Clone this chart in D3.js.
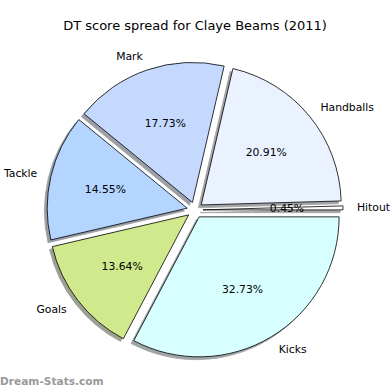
<!DOCTYPE html>
<html>
<head>
<meta charset="utf-8">
<script src="https://cdn.jsdelivr.net/npm/d3@7"></script>
<style>
  body { margin: 0; background: #fff; }
  svg { display: block; font-family: "DejaVu Sans", sans-serif; }
</style>
</head>
<body>
<svg id="chart"></svg>
<script>
// slices go counter-clockwise from 3 o'clock, like matplotlib
const categories = ['Hitout', 'Handballs', 'Mark', 'Tackle', 'Goals', 'Kicks']
const counts = [1, 46, 39, 32, 30, 72]
const colours = ['#ffffff', '#eaf1ff', '#c5d9ff', '#b4d5ff', '#cfe98c', '#d8ffff']
const title = 'DT score spread for Claye Beams (2011)'

const width = 390, height = 390
const cx = 195, cy = 210
const radius = 140
const explode = 8
const shadowOff = 2.8

const svg = d3.select('#chart')
    .attr('width', width)
    .attr('height', height)

const data = categories.map((c, i) => ({name: c, value: counts[i], colour: colours[i]}))
const total = d3.sum(counts)

const pie = d3.pie()
    .sort(null)
    .value(d => d.value)
    .startAngle(Math.PI / 2)
    .endAngle(Math.PI / 2 - 2 * Math.PI)

const arcs = pie(data)
const arc = d3.arc().innerRadius(0).outerRadius(radius)

// direction of the middle of a slice (d3 angles: clockwise from north)
const dir = d => {
    const m = (d.startAngle + d.endAngle) / 2
    return [Math.sin(m), -Math.cos(m)]
}

const g = svg.append('g').attr('transform', 'translate(' + cx + ',' + cy + ')')

// shadows first, under every wedge
g.selectAll('path.shadow')
    .data(arcs)
    .enter().append('path')
    .attr('class', 'shadow')
    .attr('d', arc)
    .attr('transform', d => {
        const [dx, dy] = dir(d)
        return 'translate(' + (dx * explode - shadowOff) + ',' + (dy * explode + shadowOff) + ')'
    })
    .attr('fill', d => {
        const c = d3.rgb(d.data.colour)
        return d3.rgb(c.r * 0.3, c.g * 0.3, c.b * 0.3)
    })
    .attr('stroke', d => {
        const c = d3.rgb(d.data.colour)
        return d3.rgb(c.r * 0.3, c.g * 0.3, c.b * 0.3)
    })
    .attr('stroke-width', 0.8)
    .attr('opacity', 0.5)

g.selectAll('path.wedge')
    .data(arcs)
    .enter().append('path')
    .attr('class', 'wedge')
    .attr('d', arc)
    .attr('transform', d => {
        const [dx, dy] = dir(d)
        return 'translate(' + dx * explode + ',' + dy * explode + ')'
    })
    .attr('fill', d => d.data.colour)
    .attr('stroke', '#000')
    .attr('stroke-width', 0.8)

// category labels at 1.1 r
g.selectAll('text.label')
    .data(arcs)
    .enter().append('text')
    .attr('class', 'label')
    .attr('x', d => dir(d)[0] * (explode + radius * 1.1))
    .attr('y', d => dir(d)[1] * (explode + radius * 1.1))
    .attr('dy', '0.35em')
    .attr('text-anchor', d => dir(d)[0] > 0 ? 'start' : 'end')
    .attr('font-size', '10.8px')
    .attr('fill', '#000')
    .text(d => d.data.name)

// percentages at 0.6 r
g.selectAll('text.pct')
    .data(arcs)
    .enter().append('text')
    .attr('class', 'pct')
    .attr('x', d => dir(d)[0] * (explode + radius * 0.6))
    .attr('y', d => dir(d)[1] * (explode + radius * 0.6))
    .attr('dy', '0.35em')
    .attr('text-anchor', 'middle')
    .attr('font-size', '10.8px')
    .attr('fill', '#000')
    .text(d => (d.data.value / total * 100).toFixed(2) + '%')

svg.append('text')
    .attr('x', width / 2)
    .attr('y', 30)
    .attr('text-anchor', 'middle')
    .attr('font-size', '13px')
    .attr('fill', '#000')
    .text(title)

svg.append('text')
    .attr('x', 0)
    .attr('y', 385)
    .attr('font-size', '10.6px')
    .attr('font-weight', 'bold')
    .attr('fill', '#999')
    .text('Dream-Stats.com')
</script>
</body>
</html>
